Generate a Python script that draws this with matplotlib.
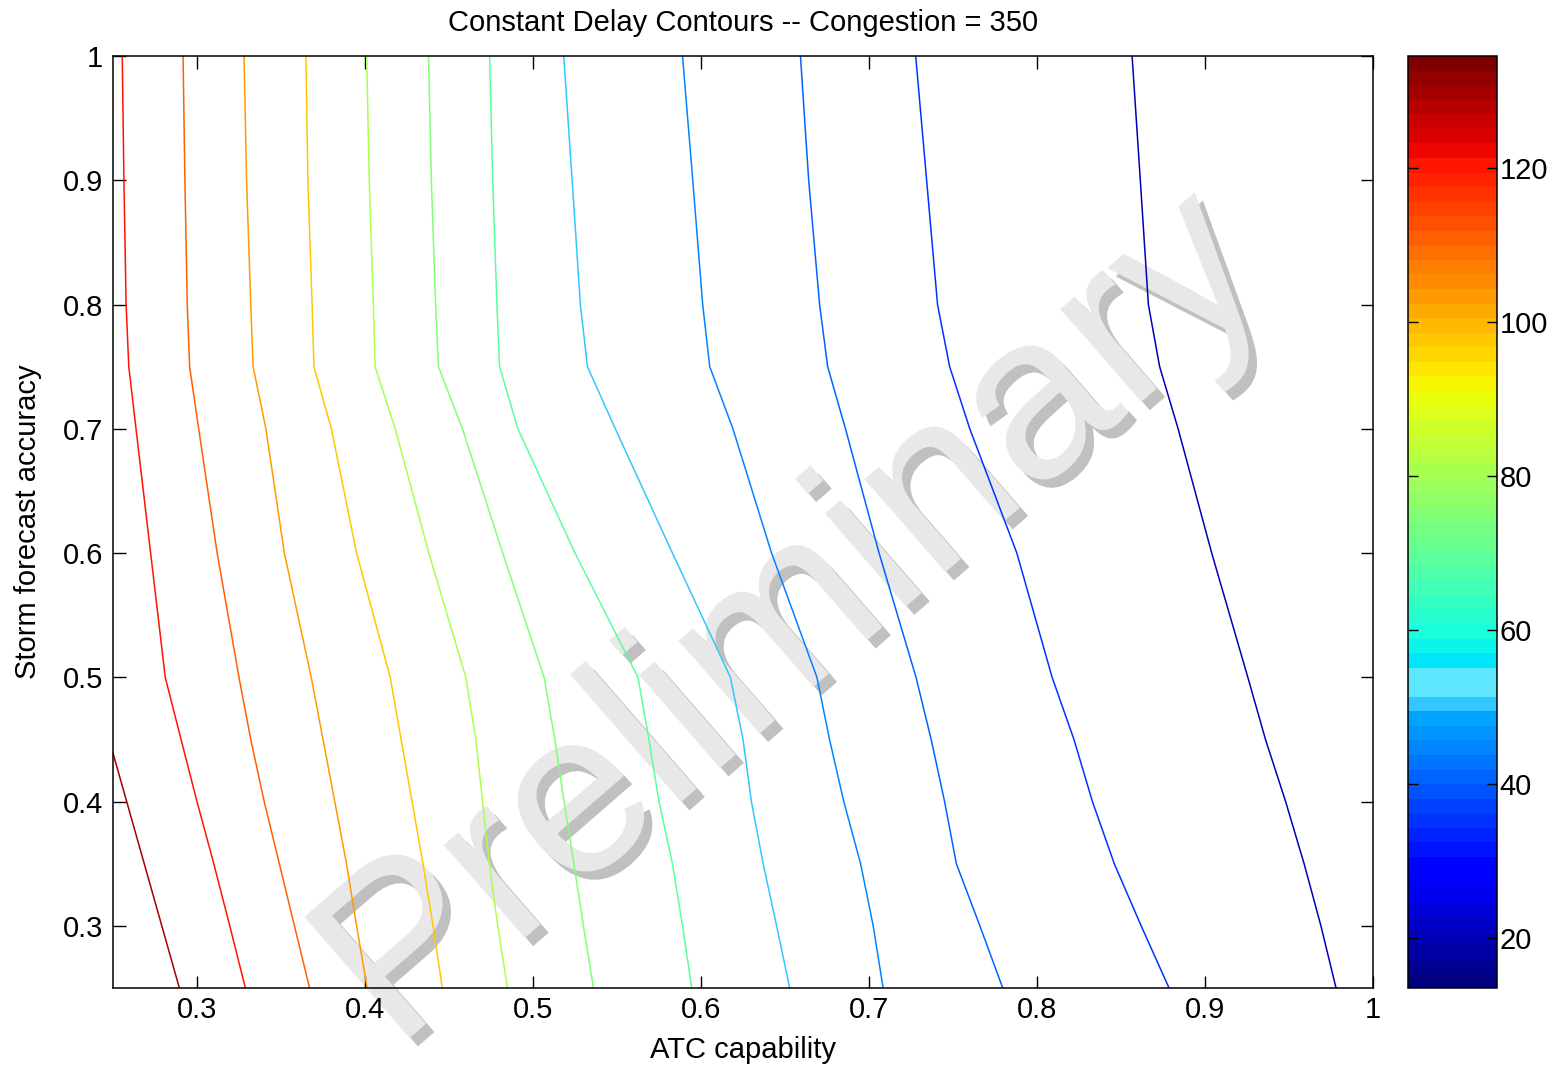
import numpy as np
import matplotlib
matplotlib.use("Agg")
import matplotlib.pyplot as plt
from matplotlib import colors, cm, patheffects

plt.rcParams["font.family"] = ["Liberation Sans", "DejaVu Sans"]

# y grid shared by every contour line (storm forecast accuracy)
ACCURACY = [1.0, 0.9, 0.8, 0.75, 0.7, 0.6, 0.5, 0.45, 0.4, 0.35, 0.3, 0.25]

# ATC capability where each constant-delay line crosses the rows above
delay_120 = [0.2555, 0.2565, 0.2578, 0.2594, 0.2637, 0.2724, 0.2811, 0.2905, 0.3000, 0.3100, 0.3195, 0.3288]
delay_110 = [0.2917, 0.2928, 0.2942, 0.2956, 0.3010, 0.3120, 0.3250, 0.3320, 0.3400, 0.3490, 0.3580, 0.3670]
delay_104 = [0.3280, 0.3295, 0.3320, 0.3334, 0.3410, 0.3520, 0.3680, 0.3750, 0.3820, 0.3890, 0.3950, 0.4013]
delay_98 = [0.3648, 0.3660, 0.3685, 0.3696, 0.3800, 0.3950, 0.4150, 0.4215, 0.4280, 0.4345, 0.4405, 0.4460]
delay_80 = [0.4010, 0.4025, 0.4050, 0.4060, 0.4180, 0.4380, 0.4600, 0.4660, 0.4700, 0.4740, 0.4790, 0.4848]
delay_74 = [0.4378, 0.4395, 0.4420, 0.4437, 0.4580, 0.4820, 0.5066, 0.5130, 0.5185, 0.5243, 0.5300, 0.5360]
delay_69 = [0.4742, 0.4760, 0.4785, 0.4801, 0.4910, 0.5250, 0.5625, 0.5690, 0.5750, 0.5830, 0.5890, 0.5945]
delay_50 = [0.5183, 0.5233, 0.5282, 0.5324, 0.5490, 0.5830, 0.6175, 0.6250, 0.6300, 0.6370, 0.6450, 0.6528]
delay_45 = [0.5890, 0.5951, 0.6010, 0.6052, 0.6190, 0.6420, 0.6690, 0.6765, 0.6850, 0.6950, 0.7025, 0.7084]
delay_40 = [0.6592, 0.6641, 0.6706, 0.6754, 0.6860, 0.7060, 0.7280, 0.7370, 0.7450, 0.7520, 0.7660, 0.7796]
delay_36 = [0.7278, 0.7343, 0.7408, 0.7480, 0.7600, 0.7880, 0.8090, 0.8220, 0.8330, 0.8460, 0.8620, 0.8786]
delay_21 = [0.8566, 0.8615, 0.8663, 0.8730, 0.8840, 0.9040, 0.9255, 0.9360, 0.9480, 0.9590, 0.9690, 0.9780]

DELAY_LINES = [delay_120, delay_110, delay_104, delay_98, delay_80, delay_74,
               delay_69, delay_50, delay_45, delay_40, delay_36, delay_21]
CONTOUR_LEVELS = [120, 110, 104, 98, 80, 74, 69, 50, 45, 40, 36, 21]

# short highest-delay line in the lower-left corner
corner_x = [0.25, 0.2895]
corner_y = [0.439, 0.25]
corner_level = 130

DELAY_MIN, DELAY_MAX = 13.5, 134.5
TICKS = [0.3, 0.4, 0.5, 0.6, 0.7, 0.8, 0.9, 1.0]
TICK_LABELS = ["0.3", "0.4", "0.5", "0.6", "0.7", "0.8", "0.9", "1"]
CBAR_TICKS = [20, 40, 60, 80, 100, 120]

# MATLAB-like jet(64) with the lighter cyan band seen in the colorbar
jet = plt.get_cmap("jet", 64)(np.arange(64))
jet[19] = (0.20, 0.78, 1.0, 1.0)
jet[20] = (0.37, 0.90, 1.0, 1.0)
jet[21] = (0.37, 0.90, 1.0, 1.0)
cmap = colors.ListedColormap(jet)
norm = colors.Normalize(DELAY_MIN, DELAY_MAX)

W, H = 1562, 1071
fig = plt.figure(figsize=(W / 100, H / 100), dpi=100)
ax = fig.add_axes([113 / W, 1 - 988 / H, 1260 / W, 932 / H])
cax = fig.add_axes([1408 / W, 1 - 988 / H, 89 / W, 932 / H])

for xs, lev in zip(DELAY_LINES, CONTOUR_LEVELS):
    ax.plot(xs, ACCURACY, color=cmap(norm(lev)), lw=1.1, zorder=2)
ax.plot(corner_x, corner_y, color=cmap(norm(corner_level)), lw=1.1, zorder=2)

ax.set_xlim(0.25, 1)
ax.set_ylim(0.25, 1)
ax.set_xticks(TICKS, TICK_LABELS)
ax.set_yticks(TICKS, TICK_LABELS)
ax.tick_params(direction="in", top=True, right=True, length=9, width=1, labelsize=21)
ax.tick_params(axis="x", pad=6)
ax.tick_params(axis="y", pad=7)
for sp in ax.spines.values():
    sp.set_linewidth(1.1)

# watermark
ax.text(0.6565, 0.5445, "Preliminary", fontsize=168, color="#e8e8e8", rotation=41,
        ha="center", va="center", rotation_mode="anchor", zorder=1, clip_on=False,
        path_effects=[patheffects.withSimplePatchShadow(offset=(6, -6), shadow_rgbFace="#c0c0c0", alpha=1.0)])

sm = cm.ScalarMappable(norm=norm, cmap=cmap)
cb = fig.colorbar(sm, cax=cax, ticks=CBAR_TICKS)
cb.outline.set_linewidth(1.1)
cax.tick_params(direction="in", left=True, right=True, length=7, width=1, labelsize=21, pad=2)
cax.minorticks_off()

fig.text(743 / W, 1 - 23 / H, "Constant Delay Contours -- Congestion = 350", ha="center", va="center", fontsize=21)
fig.text(743 / W, 1 - 1050 / H, "ATC capability", ha="center", va="center", fontsize=21)
fig.text(28 / W, 1 - 522 / H, "Storm forecast accuracy", ha="center", va="center", rotation=90, fontsize=21)

fig.savefig("out.png", dpi=100)
